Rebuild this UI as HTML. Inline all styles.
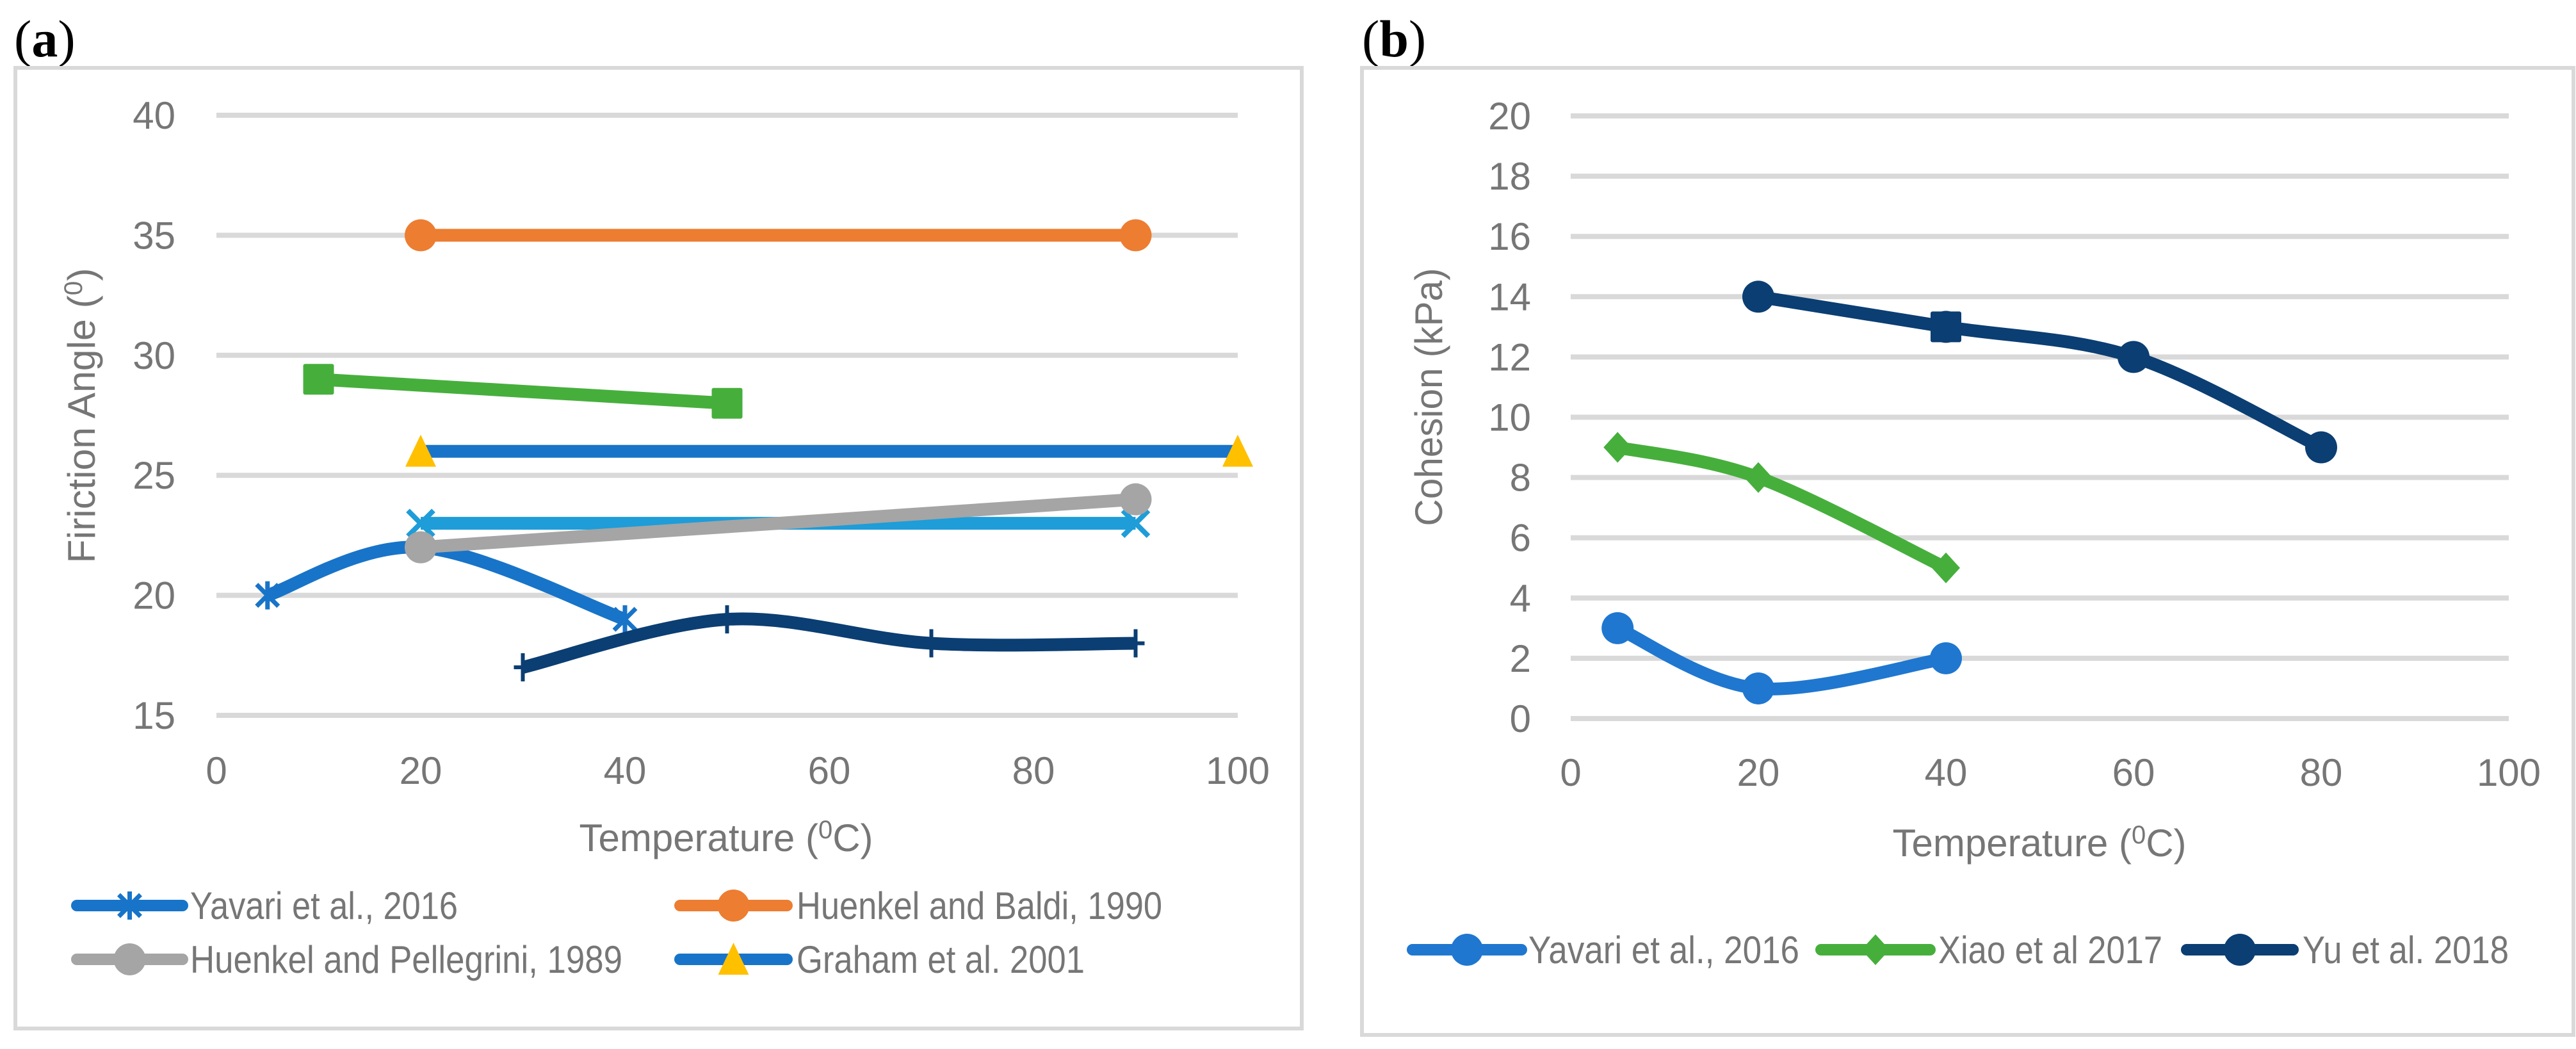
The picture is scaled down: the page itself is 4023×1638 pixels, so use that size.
<!DOCTYPE html>
<html><head><meta charset="utf-8"><style>
html,body{margin:0;padding:0;background:#fff;}
svg{display:block;}
text{font-family:"Liberation Sans Narrow","Liberation Sans",sans-serif;fill:#767676;}
</style></head><body>
<svg id="chart" width="4023" height="1638" viewBox="0 0 4023 1638" xmlns="http://www.w3.org/2000/svg">
<text x="22" y="88" style="font-family:'Liberation Serif',serif;font-size:82px;fill:#000;">(<tspan font-weight="bold">a</tspan>)</text>
<text x="2127" y="88" style="font-family:'Liberation Serif',serif;font-size:82px;fill:#000;">(<tspan font-weight="bold">b</tspan>)</text>
<rect x="24" y="106" width="2009" height="1500" fill="none" stroke="#d9d9d9" stroke-width="6"/>
<rect x="2127" y="106" width="1892" height="1510" fill="none" stroke="#d9d9d9" stroke-width="6"/>
<g id="pa"></g>
<g id="pb"></g>
</svg>
<script>
// ---- Panel (a) data ----
const aXTicks = [0,20,40,60,80,100];
const aYTicks = [15,20,25,30,35,40];
const aYavariX = [5,20,40];
const aYavariY = [20,22,19];
const aBaldiX = [20,90];
const aBaldiY = [35,35];
const aGreenX = [10,50];
const aGreenY = [29,28];
const aGrahamX = [20,100];
const aGrahamY = [26,26];
const aLightX = [20,90];
const aLightY = [23,23];
const aPellX = [20,90];
const aPellY = [22,24];
const aNavyX = [30,50,70,90];
const aNavyY = [17,19,18,18];
// ---- Panel (b) data ----
const bXTicks = [0,20,40,60,80,100];
const bYTicks = [0,2,4,6,8,10,12,14,16,18,20];
const bYavariX = [5,20,40];
const bYavariY = [3,1,2];
const bXiaoX = [5,20,40];
const bXiaoY = [9,8,5];
const bYuX = [20,40,60,80];
const bYuY = [14,13,12,9];

const NS = "http://www.w3.org/2000/svg";
function mk(parent, tag, attrs, txt){
  const e = document.createElementNS(NS, tag);
  for (const k in attrs) e.setAttribute(k, attrs[k]);
  if (txt !== undefined) e.textContent = txt;
  parent.appendChild(e);
  return e;
}
function smoothPath(pts){
  if (pts.length < 3) return "M" + pts.map(p=>p[0]+","+p[1]).join(" L");
  let d = "M"+pts[0][0]+","+pts[0][1];
  for (let i=0;i<pts.length-1;i++){
    const p0=pts[Math.max(0,i-1)], p1=pts[i], p2=pts[i+1], p3=pts[Math.min(pts.length-1,i+2)];
    const t=1/6;
    const c1=[p1[0]+(p2[0]-p0[0])*t, p1[1]+(p2[1]-p0[1])*t];
    const c2=[p2[0]-(p3[0]-p1[0])*t, p2[1]-(p3[1]-p1[1])*t];
    d+=" C"+c1[0]+","+c1[1]+" "+c2[0]+","+c2[1]+" "+p2[0]+","+p2[1];
  }
  return d;
}
function marker(g, type, x, y, color, fill){
  let e;
  if (type==="circle"){ e=mk(g,"circle",{cx:x,cy:y,r:25,fill:color}); }
  else if (type==="square"){ e=mk(g,"rect",{x:x-24,y:y-24,width:48,height:48,rx:3,fill:color}); }
  else if (type==="triangle"){ e=mk(g,"polygon",{points:(x)+","+(y-26)+" "+(x+24)+","+(y+24)+" "+(x-24)+","+(y+24),fill:fill||color}); }
  else if (type==="diamond"){ e=mk(g,"polygon",{points:x+","+(y-24)+" "+(x+22)+","+y+" "+x+","+(y+24)+" "+(x-22)+","+y,fill:color}); }
  else if (type==="x"){ e=mk(g,"path",{d:"M"+(x-20)+","+(y-20)+"L"+(x+20)+","+(y+20)+"M"+(x+20)+","+(y-20)+"L"+(x-20)+","+(y+20),stroke:color,"stroke-width":8,fill:"none"}); }
  else if (type==="star"){ e=mk(g,"path",{d:"M"+(x-17)+","+(y-17)+"L"+(x+17)+","+(y+17)+"M"+(x+17)+","+(y-17)+"L"+(x-17)+","+(y+17)+"M"+x+","+(y-22)+"L"+x+","+(y+22),stroke:color,"stroke-width":7,fill:"none"}); }
  else if (type==="plus"){ e=mk(g,"path",{d:"M"+x+","+(y-22)+"L"+x+","+(y+22)+"M"+(x-14)+","+y+"L"+(x+14)+","+y,stroke:color,"stroke-width":6,fill:"none"}); }
  
  
  return e;
}
function series(g, name, xs, ys, sx, sy, color, mtype, smooth, mfill){
  const sg = mk(g,"g",{});
  
  
  const pts = xs.map((x,i)=>[sx(x), sy(ys[i])]);
  const p = mk(sg,"path",{d: smooth? smoothPath(pts) : "M"+pts.map(p=>p[0]+","+p[1]).join(" L"), fill:"none", stroke:color, "stroke-width":20, "stroke-linejoin":"round"});
  
  
  pts.forEach(pt=>marker(sg, mtype, pt[0], pt[1], color, mfill));
}
function axes(g, xT, yT, sx, sy, x0, x1, yLabRight, xLabBase, prefix){
  yT.forEach(v=>{
    const l=mk(g,"line",{x1:x0,x2:x1,y1:sy(v),y2:sy(v),stroke:"#d9d9d9","stroke-width":8});
    
    
    const t=mk(g,"text",{x:yLabRight,y:sy(v)+21,"text-anchor":"end","font-size":60},String(v));
    
    
  });
  xT.forEach(v=>{
    const t=mk(g,"text",{x:sx(v),y:xLabBase,"text-anchor":"middle","font-size":60},String(v));
    
    
  });
}
function legendEntry(g, x1, x2, y, color, mtype, label, tx, tw, mfill){
  const lg = mk(g,"g",{});
  
  
  mk(lg,"line",{x1:x1,x2:x2,y1:y,y2:y,stroke:color,"stroke-width":18,"stroke-linecap":"round"});
  marker(lg, mtype, (x1+x2)/2, y, color, mfill);
  mk(lg,"text",{x:tx,y:y+21,"font-size":60,textLength:tw,lengthAdjust:"spacingAndGlyphs"},label);
}
function vtitle(g, cx, cy, len, name){
  const t=mk(g,"text",{x:0,y:0,"font-size":60,"text-anchor":"middle",transform:"translate("+cx+","+cy+") rotate(-90)",textLength:len,lengthAdjust:"spacingAndGlyphs"});
  
  
  return t;
}

// ---- Panel a ----
(function(){
  const g = document.getElementById("pa");
  const sx = v => 338 + (v-0)*(1933-338)/100;
  const sy = v => 1117 - (v-15)*(1117-180)/25;
  axes(g, aXTicks, aYTicks, sx, sy, 338, 1933, 274, 1224, 'a-');
  const yt = vtitle(g, 148, 649, 461, "a-y-axis-title");
  yt.innerHTML = 'Firiction Angle (<tspan dy="-20" font-size="40">0</tspan><tspan dy="20">)</tspan>';
  const xt = mk(g,"text",{x:1134,y:1329,"font-size":60,"text-anchor":"middle"});
  
  
  xt.innerHTML = 'Temperature (<tspan dy="-20" font-size="40">0</tspan><tspan dy="20">C)</tspan>';
  series(g,"huenkel-baldi-series",aBaldiX,aBaldiY,sx,sy,"#ed7d31","circle",false);
  series(g,"green-series",aGreenX,aGreenY,sx,sy,"#46af3c","square",false);
  series(g,"graham-series",aGrahamX,aGrahamY,sx,sy,"#1874c8","triangle",false,"#ffc000");
  series(g,"light-blue-series",aLightX,aLightY,sx,sy,"#1e9dd8","x",false);
  series(g,"yavari-series",aYavariX,aYavariY,sx,sy,"#1874c8","star",true);
  series(g,"huenkel-pellegrini-series",aPellX,aPellY,sx,sy,"#a5a5a5","circle",false);
  series(g,"navy-series",aNavyX,aNavyY,sx,sy,"#0b3e73","plus",true);
  const lg = mk(g,"g",{});
  
  
  legendEntry(lg,120,285,1414,"#1874c8","star","Yavari et al., 2016",297,418);
  legendEntry(lg,1062,1229,1414,"#ed7d31","circle","Huenkel and Baldi, 1990",1244,571);
  legendEntry(lg,120,285,1498,"#a5a5a5","circle","Huenkel and Pellegrini, 1989",297,675);
  legendEntry(lg,1062,1229,1498,"#1874c8","triangle","Graham et al. 2001",1244,450,"#ffc000");
})();

// ---- Panel b ----
(function(){
  const g = document.getElementById("pb");
  const sx = v => 2453 + (v-0)*(3918-2453)/100;
  const sy = v => 1122 - (v-0)*(1122-181)/20;
  axes(g, bXTicks, bYTicks, sx, sy, 2453, 3918, 2391, 1227, 'b-');
  const yt = vtitle(g, 2252, 620, 403, "b-y-axis-title");
  yt.textContent = "Cohesion (kPa)";
  const xt = mk(g,"text",{x:3185,y:1337,"font-size":60,"text-anchor":"middle"});
  
  
  xt.innerHTML = 'Temperature (<tspan dy="-20" font-size="40">0</tspan><tspan dy="20">C)</tspan>';
  series(g,"b-yavari-series",bYavariX,bYavariY,sx,sy,"#1f77d0","circle",true);
  series(g,"xiao-series",bXiaoX,bXiaoY,sx,sy,"#46af3c","diamond",true);
  series(g,"yu-series",bYuX,bYuY,sx,sy,"#0b3e73","circle",true);
  const sq = marker(g,"square",sx(bYuX[1]),sy(bYuY[1]),"#0b3e73");
  const lg = mk(g,"g",{});
  
  
  legendEntry(lg,2206,2376,1483,"#1f77d0","circle","Yavari et al., 2016",2387,423);
  legendEntry(lg,2844,3014,1483,"#46af3c","diamond","Xiao et al 2017",3027,350);
  legendEntry(lg,3415,3581,1483,"#0b3e73","circle","Yu et al. 2018",3596,322);
})();
</script>
</body></html>
